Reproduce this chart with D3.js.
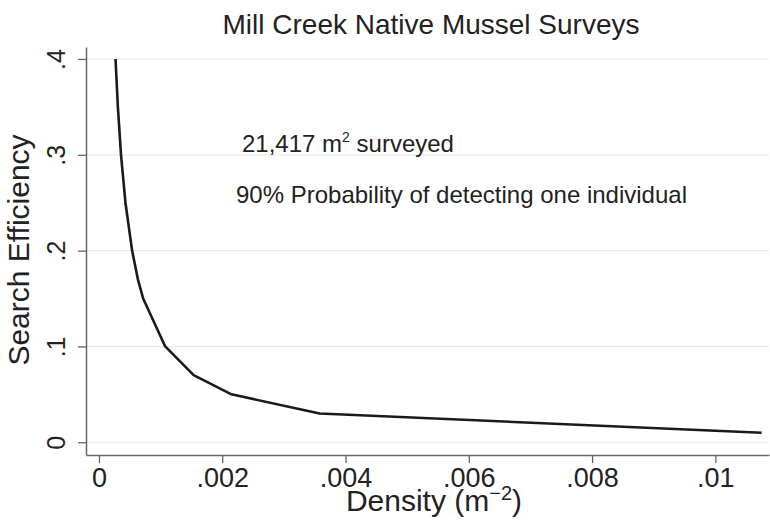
<!DOCTYPE html>
<html>
<head>
<meta charset="utf-8">
<script src="https://cdn.jsdelivr.net/npm/d3@7"></script>
<style>
  body { margin: 0; background: #fff; }
  svg { font-family: "Liberation Sans", Arial, Helvetica, sans-serif; }
</style>
</head>
<body>
<div id="chart"></div>
<script>
// density at which each search efficiency gives 90% detection
const density = [0.000269, 0.000307, 0.000358, 0.00043, 0.000538, 0.000632, 0.000717, 0.001075, 0.001536, 0.00215, 0.00358, 0.01075];
const efficiency = [0.4, 0.35, 0.3, 0.25, 0.2, 0.17, 0.15, 0.1, 0.07, 0.05, 0.03, 0.01];
const yTicks = [0, 0.1, 0.2, 0.3, 0.4];
const xTicks = [0, 0.002, 0.004, 0.006, 0.008, 0.01];

const width = 770, height = 526;
const plot = { left: 86, right: 769, top: 47, bottom: 455 };

const svg = d3.select("#chart").append("svg")
  .attr("width", width)
  .attr("height", height);

const x = d3.scaleLinear().domain([-0.00021, 0.01087]).range([plot.left, plot.right]);
const y = d3.scaleLinear().domain([-0.0133, 0.4125]).range([plot.bottom, plot.top]);

const fmt = d => d === 0 ? "0" : String(+d.toFixed(4)).replace(/^0\./, ".");

// grid lines
svg.append("g")
  .selectAll("line")
  .data(yTicks)
  .join("line")
  .attr("x1", plot.left)
  .attr("x2", plot.right)
  .attr("y1", d => y(d))
  .attr("y2", d => y(d))
  .attr("stroke", "#e8e8e8")
  .attr("stroke-width", 1.2);

// y axis
const gy = svg.append("g")
  .attr("transform", `translate(${plot.left},0)`)
  .call(d3.axisLeft(y).tickValues(yTicks).tickFormat(fmt).tickSize(8).tickSizeOuter(0));
gy.selectAll("text")
  .attr("x", null)
  .attr("dy", null)
  .attr("text-anchor", "middle")
  .attr("font-size", 25)
  .attr("transform", "translate(-21,0) rotate(-90)");

// x axis
const gx = svg.append("g")
  .attr("transform", `translate(0,${plot.bottom})`)
  .call(d3.axisBottom(x).tickValues(xTicks).tickFormat(fmt).tickSize(8).tickSizeOuter(0));
gx.selectAll("text")
  .attr("dy", null)
  .attr("y", 32)
  .attr("font-size", 27);

svg.selectAll(".domain").attr("stroke", "#666").attr("stroke-width", 1.5);
svg.selectAll(".tick line").attr("stroke", "#666").attr("stroke-width", 1.3);
svg.selectAll(".tick text").attr("fill", "#222");

// curve
const points = density.map((d, i) => [d, efficiency[i]]);
svg.append("path")
  .datum(points)
  .attr("fill", "none")
  .attr("stroke", "#1a1a1a")
  .attr("stroke-width", 2.6)
  .attr("stroke-linejoin", "round")
  .attr("d", d3.line().x(d => x(d[0])).y(d => y(d[1])));

// title
svg.append("text")
  .attr("x", 431)
  .attr("y", 34)
  .attr("text-anchor", "middle")
  .attr("font-size", 28)
  .attr("fill", "#222")
  .text("Mill Creek Native Mussel Surveys");

// axis titles
svg.append("text")
  .attr("transform", "translate(29,250) rotate(-90)")
  .attr("text-anchor", "middle")
  .attr("font-size", 30)
  .attr("fill", "#222")
  .text("Search Efficiency");

const xt = svg.append("text")
  .attr("x", 434)
  .attr("y", 511)
  .attr("text-anchor", "middle")
  .attr("font-size", 30)
  .attr("fill", "#222");
xt.append("tspan").text("Density (m");
xt.append("tspan").attr("dy", -11).attr("font-size", 20).text("\u22122");
xt.append("tspan").attr("dy", 11).text(")");

// annotations
const a1 = svg.append("text")
  .attr("x", 242)
  .attr("y", 152)
  .attr("font-size", 24)
  .attr("fill", "#222");
a1.append("tspan").text("21,417 m");
a1.append("tspan").attr("dy", -10).attr("font-size", 14).text("2");
a1.append("tspan").attr("dy", 10).text(" surveyed");

svg.append("text")
  .attr("x", 236)
  .attr("y", 203)
  .attr("font-size", 24)
  .attr("fill", "#222")
  .text("90% Probability of detecting one individual");
</script>
</body>
</html>
